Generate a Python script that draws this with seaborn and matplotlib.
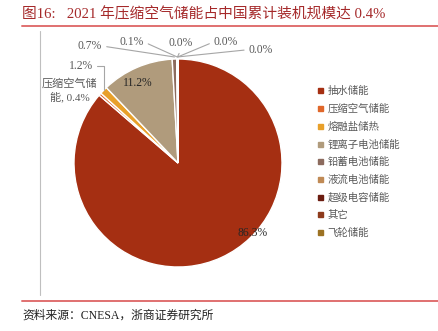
import numpy as np
import matplotlib
matplotlib.use("Agg")
import matplotlib.pyplot as plt
import seaborn as sns
from matplotlib.lines import Line2D

sns.set_theme(style="white")
plt.rcParams['font.family'] = ['Liberation Serif', 'Noto Sans CJK SC', 'DejaVu Sans']

# ---- data ----
categories = ["抽水储能", "压缩空气储能", "熔融盐储热", "锂离子电池储能", "铅蓄电池储能",
              "液流电池储能", "超级电容储能", "其它", "飞轮储能"]
shares = [86.3, 0.4, 1.2, 11.2, 0.7, 0.1, 0.04, 0.03, 0.02]
colors = ["#A52F12", "#E0672A", "#E8A02A", "#B09B7C", "#8C6B5E",
          "#C08A55", "#6B1C10", "#8E3B1C", "#9C7223"]

title = "图16:   2021 年压缩空气储能占中国累计装机规模达 0.4%"
source = "资料来源：CNESA，浙商证券研究所"

# label layout (axes data coords, pie radius = 1)
label_pos = [(0.72, -0.67), (-1.04, 0.70), (-0.82, 0.93), (-0.385, 0.77),
             (-0.73, 1.125), (-0.33, 1.165), (0.03, 1.155), (0.345, 1.165), (0.68, 1.09)]

W, H = 438, 331
fig = plt.figure(figsize=(W / 100, H / 100), dpi=100)
fig.patch.set_facecolor("white")

cx, cy, r = 178, 163, 104
ax = fig.add_axes([(cx - r) / W, (H - cy - r) / H, 2 * r / W, 2 * r / H])

wedges, _ = ax.pie(shares, colors=colors, startangle=90, counterclock=False, radius=1,
                   wedgeprops=dict(edgecolor="white", linewidth=1.0))
ax.set_xlim(-1, 1)
ax.set_ylim(-1, 1)
ax.set_aspect("auto")
ax.axis("off")

total = sum(shares)
cum = np.cumsum([0] + shares[:-1])
mid = [np.deg2rad(90 - 360 * (c + v / 2) / total) for c, v in zip(cum, shares)]

lab_font = 8.4
line_kw = dict(arrowstyle="-", color="#A6A6A6", lw=0.8, shrinkA=1, shrinkB=0)
for i, (v, (lx, ly)) in enumerate(zip(shares, label_pos)):
    txt = f"{v:.1f}%"
    tip = (np.cos(mid[i]), np.sin(mid[i]))
    if i == 0 or i == 3:
        ax.text(lx, ly, txt, ha="center", va="center", fontsize=lab_font, color="#262626",
                zorder=10)
    elif i == 1:
        ax.text(lx, ly, "压缩空气储\n能, " + txt, ha="center", va="center",
                fontsize=8, color="#595959", linespacing=1.3, zorder=10)
    elif i == 2:
        ax.annotate(txt, xy=tip, xytext=(lx, ly), ha="right", va="center",
                    fontsize=lab_font, color="#595959", zorder=10, annotation_clip=False,
                    arrowprops=dict(connectionstyle="angle,angleA=0,angleB=90,rad=0",
                                    relpos=(1, 0.5), **line_kw))
    else:
        rel = (1, 0.5) if lx < -0.1 else ((0.5, 0) if lx < 0.2 else (0, 0.5))
        ha = "right" if lx < -0.1 else ("center" if lx < 0.2 else "left")
        ax.annotate(txt, xy=(tip[0], tip[1] + 0.02), xytext=(lx, ly), ha=ha, va="center",
                    fontsize=lab_font, color="#595959", zorder=10, annotation_clip=False,
                    arrowprops=dict(relpos=rel, **line_kw))

# legend
handles = [Line2D([0], [0], marker="s", linestyle="none", markersize=3.6,
                  markerfacecolor=c, markeredgecolor=c) for c in colors]
fig.legend(handles, categories, loc="upper left", bbox_to_anchor=(317 / W, 1 - 86 / H),
           frameon=False, labelcolor="#595959", handlelength=0.6,
           handletextpad=0.4, labelspacing=0.72, borderaxespad=0, borderpad=0,
           prop={"family": ["Noto Sans CJK SC"], "size": 7.5})

# title, rules, frame line, source
fig.text(22 / W, 1 - 14 / H, title, ha="left", va="center", fontsize=10.6, color="#A5292A")
fig.add_artist(Line2D([22 / W, 1], [1 - 26 / H] * 2, color="#E07070", lw=1.4))
fig.add_artist(Line2D([22 / W, 1], [1 - 301 / H] * 2, color="#E07070", lw=1.4))
fig.add_artist(Line2D([40 / W] * 2, [1 - 31 / H, 1 - 295 / H], color="#BFBFBF", lw=0.8))
fig.text(22 / W, 1 - 316 / H, source, ha="left", va="center", fontsize=8.5, color="#222222")

fig.savefig("out.png", dpi=100, facecolor="white")
